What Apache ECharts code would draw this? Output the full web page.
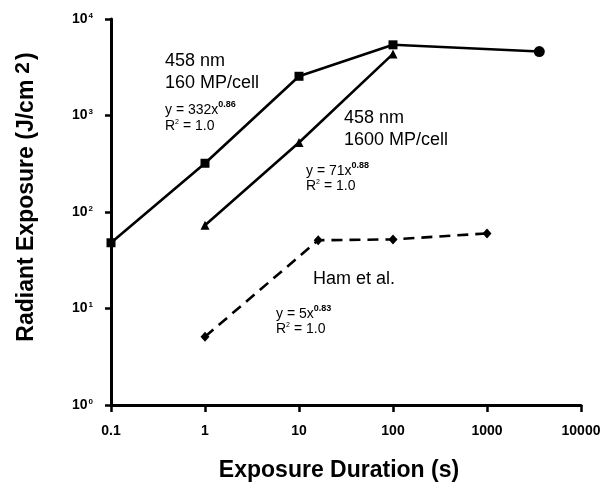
<!DOCTYPE html>
<html>
<head>
<meta charset="utf-8">
<script src="https://cdn.jsdelivr.net/npm/echarts@6/dist/echarts.min.js"></script>
<style>
html,body{margin:0;padding:0;background:#fff;}
#chart{width:605px;height:483px;}
</style>
</head>
<body>
<div id="chart"></div>
<script>
// ---- data ----
var mp160X = [0.1, 1, 10, 100];
var mp160Y = [48, 320, 2550, 5400];
var hourX = [100, 3600];
var hourY = [5400, 4600];
var mp1600X = [1, 10, 100];
var mp1600Y = [73, 525, 4350];
var hamX = [1, 16, 100, 1000];
var hamY = [5.1, 51, 52, 60];
var xTickLabels = ['0.1', '1', '10', '100', '1000', '10000'];

function pairs(xs, ys) { return xs.map(function (x, i) { return [x, ys[i]]; }); }

var FONT = 'Liberation Sans, Arial, sans-serif';

var chart = echarts.init(document.getElementById('chart'), null, {renderer: 'canvas'});

function eqText(x, y, main, sup) {
  return {
    type: 'text', x: x, y: y,
    style: {
      text: '{n|' + main + '}{s|' + sup + '}',
      verticalAlign: 'middle',
      rich: {
        n: {fontSize: 14, fontFamily: FONT, fill: '#000', lineHeight: 15},
        s: {fontSize: 9, fontFamily: FONT, fontWeight: 'bold', fill: '#000', padding: [0, 0, 11, 0]}
      }
    }
  };
}
function rText(x, y) {
  return {
    type: 'text', x: x, y: y,
    style: {
      text: '{n|R}{s|2}{n| = 1.0}',
      verticalAlign: 'middle',
      rich: {
        n: {fontSize: 14, fontFamily: FONT, fill: '#000', lineHeight: 15},
        s: {fontSize: 7, fontFamily: FONT, fill: '#000', padding: [0, 0, 7, 0]}
      }
    }
  };
}
function bigText(x, y, t) {
  return {
    type: 'text', x: x, y: y,
    style: {text: t, font: '18px ' + FONT, fill: '#000', verticalAlign: 'middle'}
  };
}

var option = {
  backgroundColor: '#fff',
  animation: false,
  grid: {left: 111, right: 24, top: 19, bottom: 78, containLabel: false, outerBoundsMode: 'none'},
  xAxis: {
    type: 'log', logBase: 10, min: 0.1, max: 10000,
    name: 'Exposure Duration (s)',
    nameLocation: 'middle', nameGap: 54,
    nameTextStyle: {fontFamily: FONT, fontWeight: 'bold', fontSize: 23, color: '#000', padding: [0, 14, 0, 0]},
    axisLine: {lineStyle: {color: '#000', width: 3}},
    axisTick: {show: true, length: 7, lineStyle: {color: '#000', width: 2.5}},
    minorTick: {show: false},
    splitLine: {show: false},
    axisLabel: {
      margin: 19, fontFamily: FONT, fontWeight: 'bold', fontSize: 14, color: '#000',
      showMinLabel: true, showMaxLabel: true,
      formatter: function (v) {
        var e = Math.round(Math.log10(v));
        return xTickLabels[e + 1];
      }
    }
  },
  yAxis: {
    type: 'log', logBase: 10, min: 1, max: 10000,
    name: 'Radiant Exposure (J/cm{s|2})',
    nameLocation: 'middle', nameRotate: 90, nameGap: 71,
    nameTextStyle: {
      fontFamily: FONT, fontWeight: 'bold', fontSize: 23, color: '#000', padding: [0, 0, 0, 30],
      rich: {s: {fontFamily: FONT, fontWeight: 'bold', fontSize: 21, color: '#000', padding: [0, 2, 6, 6]}}
    },
    axisLine: {lineStyle: {color: '#000', width: 3}},
    axisTick: {show: true, length: 6, lineStyle: {color: '#000', width: 2.5}},
    minorTick: {show: false},
    splitLine: {show: false},
    axisLabel: {
      margin: 18, color: '#000',
      formatter: function (v) {
        var e = Math.round(Math.log10(v));
        return '{b|10}{s|' + e + '}';
      },
      rich: {
        b: {fontFamily: FONT, fontWeight: 'bold', fontSize: 14, color: '#000'},
        s: {fontFamily: FONT, fontWeight: 'bold', fontSize: 8, color: '#000', padding: [0, 0, 7, 1]}
      }
    }
  },
  series: [
    {
      name: '160 MP/cell', type: 'line', data: pairs(mp160X, mp160Y),
      symbol: 'rect', symbolSize: 9, showAllSymbol: true,
      lineStyle: {color: '#000', width: 2.6}, itemStyle: {color: '#000'}, z: 3
    },
    {
      name: '1 h', type: 'line', data: pairs(hourX, hourY),
      symbol: function (val, p) { return p.dataIndex === 1 ? 'circle' : 'none'; },
      symbolSize: 11, showAllSymbol: true,
      lineStyle: {color: '#000', width: 2.6}, itemStyle: {color: '#000'}, z: 3
    },
    {
      name: '1600 MP/cell', type: 'line', data: pairs(mp1600X, mp1600Y),
      symbol: 'triangle', symbolSize: 9, showAllSymbol: true,
      lineStyle: {color: '#000', width: 2.6}, itemStyle: {color: '#000'}, z: 3
    },
    {
      name: 'Ham et al.', type: 'line', data: pairs(hamX, hamY),
      symbol: 'diamond', symbolSize: [9, 10], showAllSymbol: true,
      lineStyle: {color: '#000', width: 2.6, type: [11, 7]}, itemStyle: {color: '#000'}, z: 3
    }
  ],
  graphic: [
    bigText(165, 61, '458 nm'),
    bigText(165, 83, '160 MP/cell'),
    eqText(165, 110, 'y = 332x', '0.86'),
    rText(165, 126),
    bigText(344, 118, '458 nm'),
    bigText(344, 140, '1600 MP/cell'),
    eqText(306, 171, 'y = 71x', '0.88'),
    rText(306, 186),
    bigText(313, 279, 'Ham et al.'),
    eqText(276, 314, 'y = 5x', '0.83'),
    rText(276, 329)
  ]
};
chart.setOption(option);
</script>
</body>
</html>
